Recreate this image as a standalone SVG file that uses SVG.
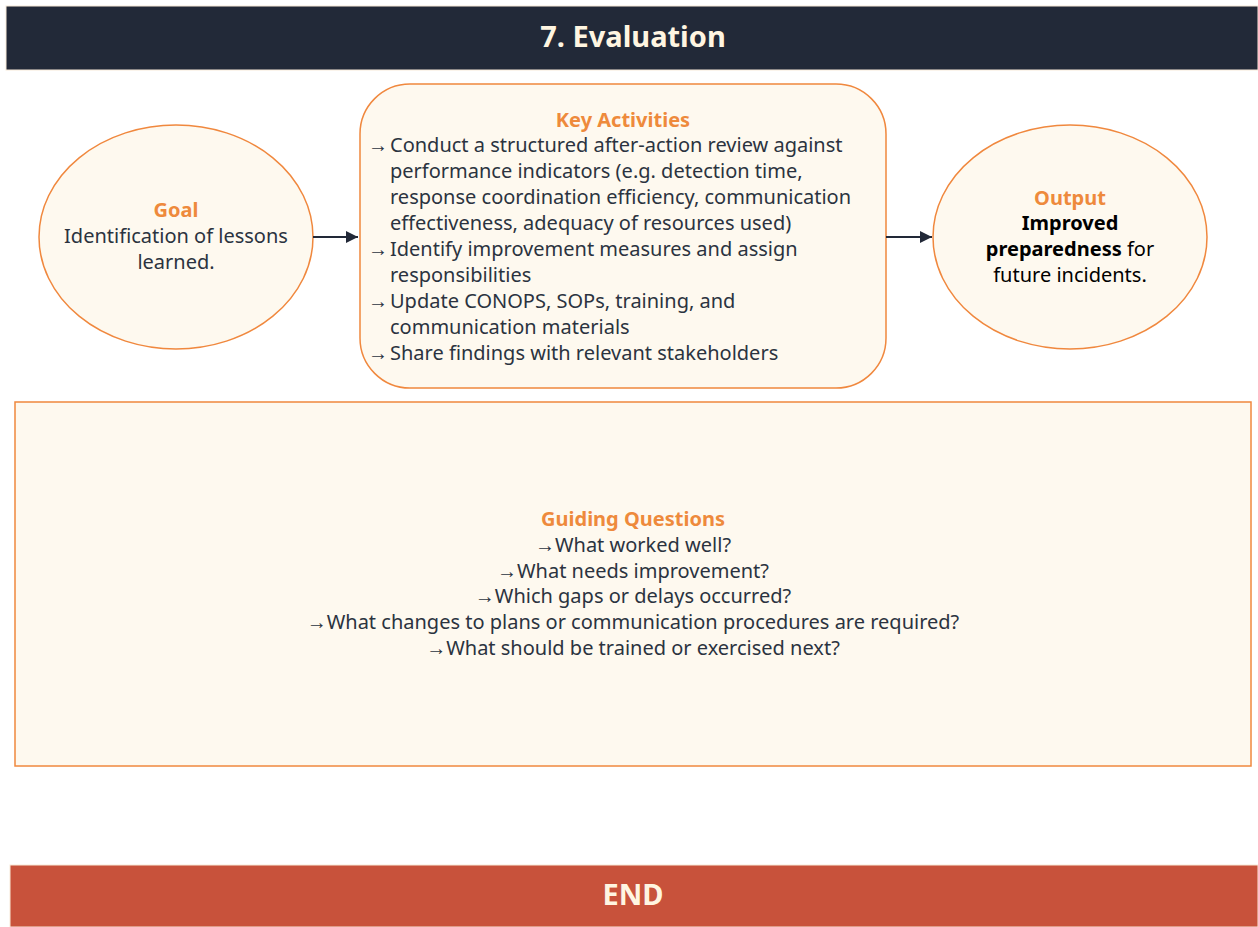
<svg xmlns="http://www.w3.org/2000/svg" width="1258" height="927" viewBox="0 0 1258 927">
<defs>
<style>
.t{font-family:"Noto Sans","Open Sans","Liberation Sans",sans-serif;font-size:20px;fill:#2b3340}
.h{font-family:"Noto Sans","Open Sans","Liberation Sans",sans-serif;font-size:20px;font-weight:bold;fill:#ee8a3c}
.node{fill:#fef9ef;stroke:#f0883e;stroke-width:1.5}
.bar{font-family:"Noto Sans","Open Sans","Liberation Sans",sans-serif;font-size:29px;font-weight:bold;fill:#fff5e1}
.c{text-anchor:middle}
.edge{stroke:#222938;stroke-width:2;fill:none}
</style>
<marker id="ah" viewBox="0 0 10 10" refX="10" refY="5" markerWidth="6" markerHeight="6" orient="auto" markerUnits="strokeWidth"><path d="M0,0 L10,5 L0,10 z" fill="#222938"/></marker>
</defs>
<rect width="1258" height="927" fill="#ffffff"/>
<g id="header">
<rect x="6" y="6" width="1252" height="64" fill="#222938" stroke="#f7e9d8" stroke-width="1"/>
<text class="bar c" x="633" y="47">7. Evaluation</text>
</g>
<g id="goal">
<ellipse class="node" cx="176" cy="237" rx="137" ry="112"/>
<text class="h c" x="176" y="217">Goal</text>
<text class="t c" x="176" y="243">Identification of lessons</text>
<text class="t c" x="176" y="269">learned.</text>
</g>
<g id="activities">
<rect class="node" x="360" y="84" width="526" height="304" rx="50" ry="50"/>
<text class="h c" x="623" y="127">Key Activities</text>
<text class="t" x="368" y="152">→<tspan x="390">Conduct a structured after-action review against</tspan></text>
<text class="t" x="390" y="178">performance indicators (e.g. detection time,</text>
<text class="t" x="390" y="204">response coordination efficiency, communication</text>
<text class="t" x="390" y="230">effectiveness, adequacy of resources used)</text>
<text class="t" x="368" y="256">→<tspan x="390">Identify improvement measures and assign</tspan></text>
<text class="t" x="390" y="282">responsibilities</text>
<text class="t" x="368" y="308">→<tspan x="390">Update CONOPS, SOPs, training, and</tspan></text>
<text class="t" x="390" y="334">communication materials</text>
<text class="t" x="368" y="360">→<tspan x="390">Share findings with relevant stakeholders</tspan></text>
</g>
<g id="output">
<ellipse class="node" cx="1070" cy="237" rx="137" ry="112"/>
<text class="h c" x="1070" y="205">Output</text>
<text class="t c" x="1070" y="230" style="fill:#000;font-weight:bold">Improved</text>
<text class="t c" x="1070" y="256" style="fill:#000"><tspan font-weight="bold">preparedness</tspan> for</text>
<text class="t c" x="1070" y="282" style="fill:#000">future incidents.</text>
</g>
<g id="questions">
<rect class="node" x="15" y="402" width="1236" height="364"/>
<text class="h c" x="633" y="526">Guiding Questions</text>
<text class="t c" x="633" y="552">→What worked well?</text>
<text class="t c" x="633" y="578">→What needs improvement?</text>
<text class="t c" x="633" y="603">→Which gaps or delays occurred?</text>
<text class="t c" x="633" y="629">→What changes to plans or communication procedures are required?</text>
<text class="t c" x="633" y="655">→What should be trained or exercised next?</text>
</g>
<g id="end">
<rect x="10" y="865" width="1248" height="62" fill="#c8523b" stroke="#f7e9d8" stroke-width="1"/>
<text class="bar c" x="633" y="905">END</text>
</g>
<g id="connectors">
<line class="edge" x1="313" y1="237" x2="358" y2="237" marker-end="url(#ah)"/>
<line class="edge" x1="886" y1="237" x2="932" y2="237" marker-end="url(#ah)"/>
</g>
</svg>
